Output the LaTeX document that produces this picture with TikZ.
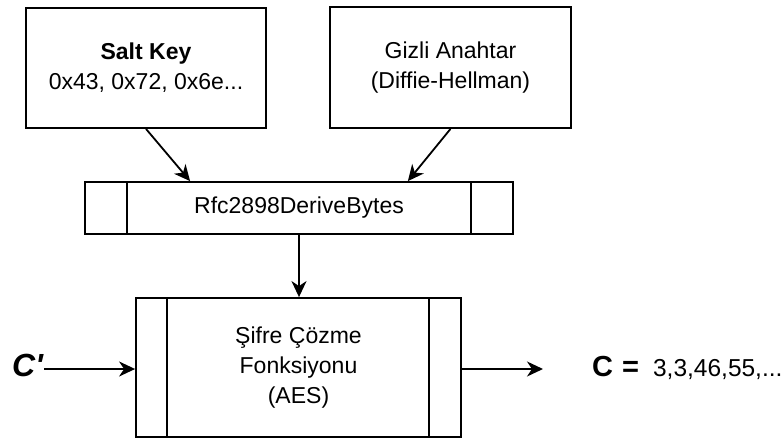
\documentclass[tikz,border=0pt]{standalone}
\usepackage{fontspec}
\setmainfont{Liberation Sans}
\usetikzlibrary{arrows.meta,calc}

\tikzset{
  x=1pt, y=-1pt,
  keybox/.style={draw, line width=1.8pt, rectangle, inner sep=0pt, align=center,
    font=\fontsize{23}{30}\selectfont},
  procbox/.style={draw, line width=1.8pt, rectangle, inner sep=0pt, align=center,
    font=\fontsize{23}{30}\selectfont},
  flow/.style={line width=1.8pt, -{Stealth[length=16pt,width=15pt,inset=5pt]}},
  divider/.style={line width=1.8pt}
}

\begin{document}
\begin{tikzpicture}
\useasboundingbox (0,0) rectangle (782,439);

% inputs
\node[keybox, minimum width=240pt, minimum height=120pt] (salt) at (146,68)
  {\textbf{Salt Key}\\0x43, 0x72, 0x6e...};
\node[keybox, minimum width=241pt, minimum height=121pt] (secret) at (450.5,67.5)
  {Gizli Anahtar\\(Diffie-Hellman)};

% key derivation
\node[procbox, minimum width=428pt, minimum height=52pt] (rfc) at (299,208)
  {Rfc2898DeriveBytes};
\draw[divider] ([xshift=43pt]rfc.north west) -- ([xshift=43pt]rfc.south west);
\draw[divider] ([xshift=-43pt]rfc.north east) -- ([xshift=-43pt]rfc.south east);

% decryption
\node[procbox, minimum width=325pt, minimum height=139pt] (aes) at (298.5,367.5)
  {Şifre Çözme\\Fonksiyonu\\(AES)};
\draw[divider] ([xshift=32pt]aes.north west) -- ([xshift=32pt]aes.south west);
\draw[divider] ([xshift=-33pt]aes.north east) -- ([xshift=-33pt]aes.south east);

% input and output texts
\node[anchor=base west, inner sep=0pt, font=\fontsize{32}{32}\selectfont\bfseries\itshape]
  (cin) at (12,376) {C\textquotesingle};
\node[anchor=base west, inner sep=0pt] (cout) at (592,376)
  {{\fontsize{29}{29}\selectfont\bfseries C\hspace{9pt}=}\hspace{14pt}{\fontsize{24.5}{24.5}\selectfont 3,3,46,55,...}};
\coordinate (outend) at (543,369);

% connectors
\draw[flow] (salt.south) -- ([xshift=106pt]rfc.north west);
\draw[flow] (secret.south) -- ([xshift=-106pt]rfc.north east);
\draw[flow] (rfc.south) -- (rfc.south |- aes.north);
\draw[flow] ([xshift=1pt]cin.east |- outend) -- (aes.west |- outend);
\draw[flow] (aes.east |- outend) -- (outend);
\end{tikzpicture}
\end{document}
